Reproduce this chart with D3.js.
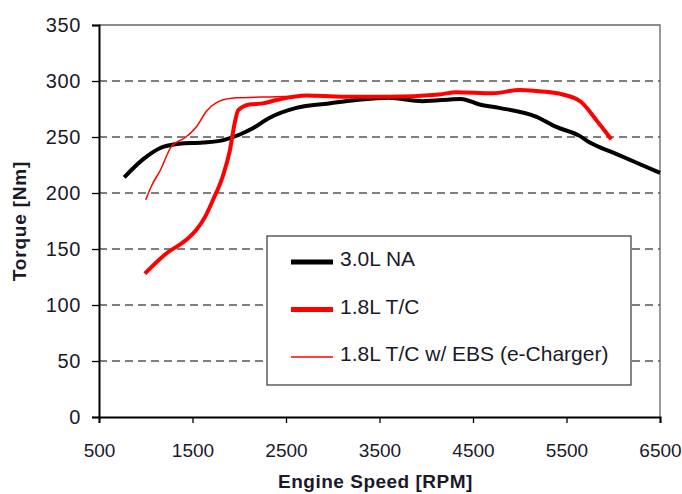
<!DOCTYPE html>
<html>
<head>
<meta charset="utf-8">
<script src="https://cdn.jsdelivr.net/npm/d3@7"></script>
<style>
body { margin: 0; background: #fff; }
text { font-family: "Liberation Sans", Arial, sans-serif; }
</style>
</head>
<body>
<div id="chart-area"></div>
<script>
let width = 682,
height = 494;

// data: [rpm, torque]
let naLine = [[770,214],[970,230],[1150,240],[1360,244],[1610,245],[1820,247],[2000,252],[2150,258],
  [2320,267],[2610,276],[2960,280],[3250,283],[3600,285],[3960,282],[4370,284],[4570,279],[4780,276],
  [5180,268],[5390,259],[5640,251],[5750,245],[6000,236],[6500,218]];
let tcLine = [[990,128],[1220,146],[1430,158],[1540,167],[1630,178],[1720,194],[1820,214],[1900,238],
  [1950,262],[1990,274],[2110,279],[2250,280],[2400,283],[2720,287],[3100,286],[3600,286],[4140,288],
  [4320,290],[4710,289],[5000,292],[5180,291],[5460,288],[5660,281],[5820,265],[5980,248]];
let ebsLine = [[1000,194],[1060,206],[1160,221],[1270,241],[1430,250],[1540,259],[1650,273],[1790,282],
  [1970,285],[2400,286],[2750,287]];

let xTicks = [500,1500,2500,3500,4500,5500,6500];
let yTicks = [0,50,100,150,200,250,300,350];
let seriesNames = ["3.0L NA","1.8L T/C","1.8L T/C w/ EBS (e-Charger)"];

let margin = {left: 99, right: 22, top: 25, bottom: 77};

let svg = d3.select("#chart-area").append("svg")
  .attr("width", width)
  .attr("height", height);

let x = d3.scaleLinear().domain([500, 6500]).range([margin.left, width - margin.right]);
let y = d3.scaleLinear().domain([0, 350]).range([height - margin.bottom, margin.top]);

// grid
svg.selectAll(".grid")
  .data(yTicks.filter(d => d > 0 && d < 350))
  .enter().append("line")
  .attr("x1", x(500)).attr("x2", x(6500))
  .attr("y1", d => y(d)).attr("y2", d => y(d))
  .attr("stroke", "#555").attr("stroke-width", 1.3)
  .attr("stroke-dasharray", "8,5");

// top and right frame
svg.append("path")
  .attr("d", `M${x(500)},${y(350)}H${x(6500)}V${y(0)}`)
  .attr("fill", "none").attr("stroke", "#666").attr("stroke-width", 1.3);

let xAxis = svg.append("g")
  .attr("transform", `translate(0,${y(0)})`)
  .call(d3.axisBottom(x).tickValues(xTicks).tickFormat(d3.format("d")).tickSizeOuter(0).tickSize(6).tickPadding(21));
let yAxis = svg.append("g")
  .attr("transform", `translate(${x(500)},0)`)
  .call(d3.axisLeft(y).tickValues(yTicks).tickSizeOuter(0).tickSize(7).tickPadding(11));

[xAxis, yAxis].forEach(a => {
  a.select(".domain").attr("stroke", "#000").attr("stroke-width", 2);
  a.selectAll(".tick line").attr("stroke", "#000").attr("stroke-width", 1.3);
  a.selectAll(".tick text").attr("fill", "#1a1a2a")
    .attr("font-family", "'Liberation Sans', Arial, sans-serif");
});
yAxis.selectAll(".tick text").attr("font-size", 20).attr("letter-spacing", "0.6px");
xAxis.selectAll(".tick text").attr("font-size", 19);

let line = d3.line().x(d => x(d[0])).y(d => y(d[1])).curve(d3.curveMonotoneX);

svg.append("path").datum(naLine).attr("d", line)
  .attr("fill", "none").attr("stroke", "#000").attr("stroke-width", 4).attr("stroke-linejoin", "round");
svg.append("path").datum(tcLine).attr("d", line)
  .attr("fill", "none").attr("stroke", "#ff0000").attr("stroke-width", 4).attr("stroke-linejoin", "round");
svg.append("path").datum(ebsLine).attr("d", line)
  .attr("fill", "none").attr("stroke", "#ff0000").attr("stroke-width", 1.5).attr("stroke-linejoin", "round");

// legend
let legend = svg.append("g").attr("transform", "translate(267,236)");
legend.append("rect").attr("width", 364).attr("height", 149)
  .attr("fill", "#fff").attr("stroke", "#444").attr("stroke-width", 1.3);
let styles = [{c: "#000", w: 5}, {c: "#ff0000", w: 5}, {c: "#ff0000", w: 1.5}];
seriesNames.forEach((n, i) => {
  let yy = 26 + i * 47.5;
  legend.append("line").attr("x1", 24).attr("x2", 66).attr("y1", yy).attr("y2", yy)
    .attr("stroke", styles[i].c).attr("stroke-width", styles[i].w);
  legend.append("text").attr("x", 73).attr("y", yy + 4).attr("font-size", 21).attr("fill", "#1a1a2a").text(n);
});

// axis titles
svg.append("text")
  .attr("transform", `translate(26,${(y(0) + y(350)) / 2}) rotate(-90)`)
  .attr("text-anchor", "middle").attr("font-size", 19).attr("font-weight", "bold").attr("fill", "#1a1a2a")
  .attr("letter-spacing", "0.8px")
  .text("Torque [Nm]");
svg.append("text")
  .attr("x", (x(500) + x(6500)) / 2 - 4).attr("y", 488)
  .attr("text-anchor", "middle").attr("font-size", 19).attr("font-weight", "bold").attr("fill", "#1a1a2a")
  .attr("letter-spacing", "0.5px")
  .text("Engine Speed [RPM]");
</script>
</body>
</html>
